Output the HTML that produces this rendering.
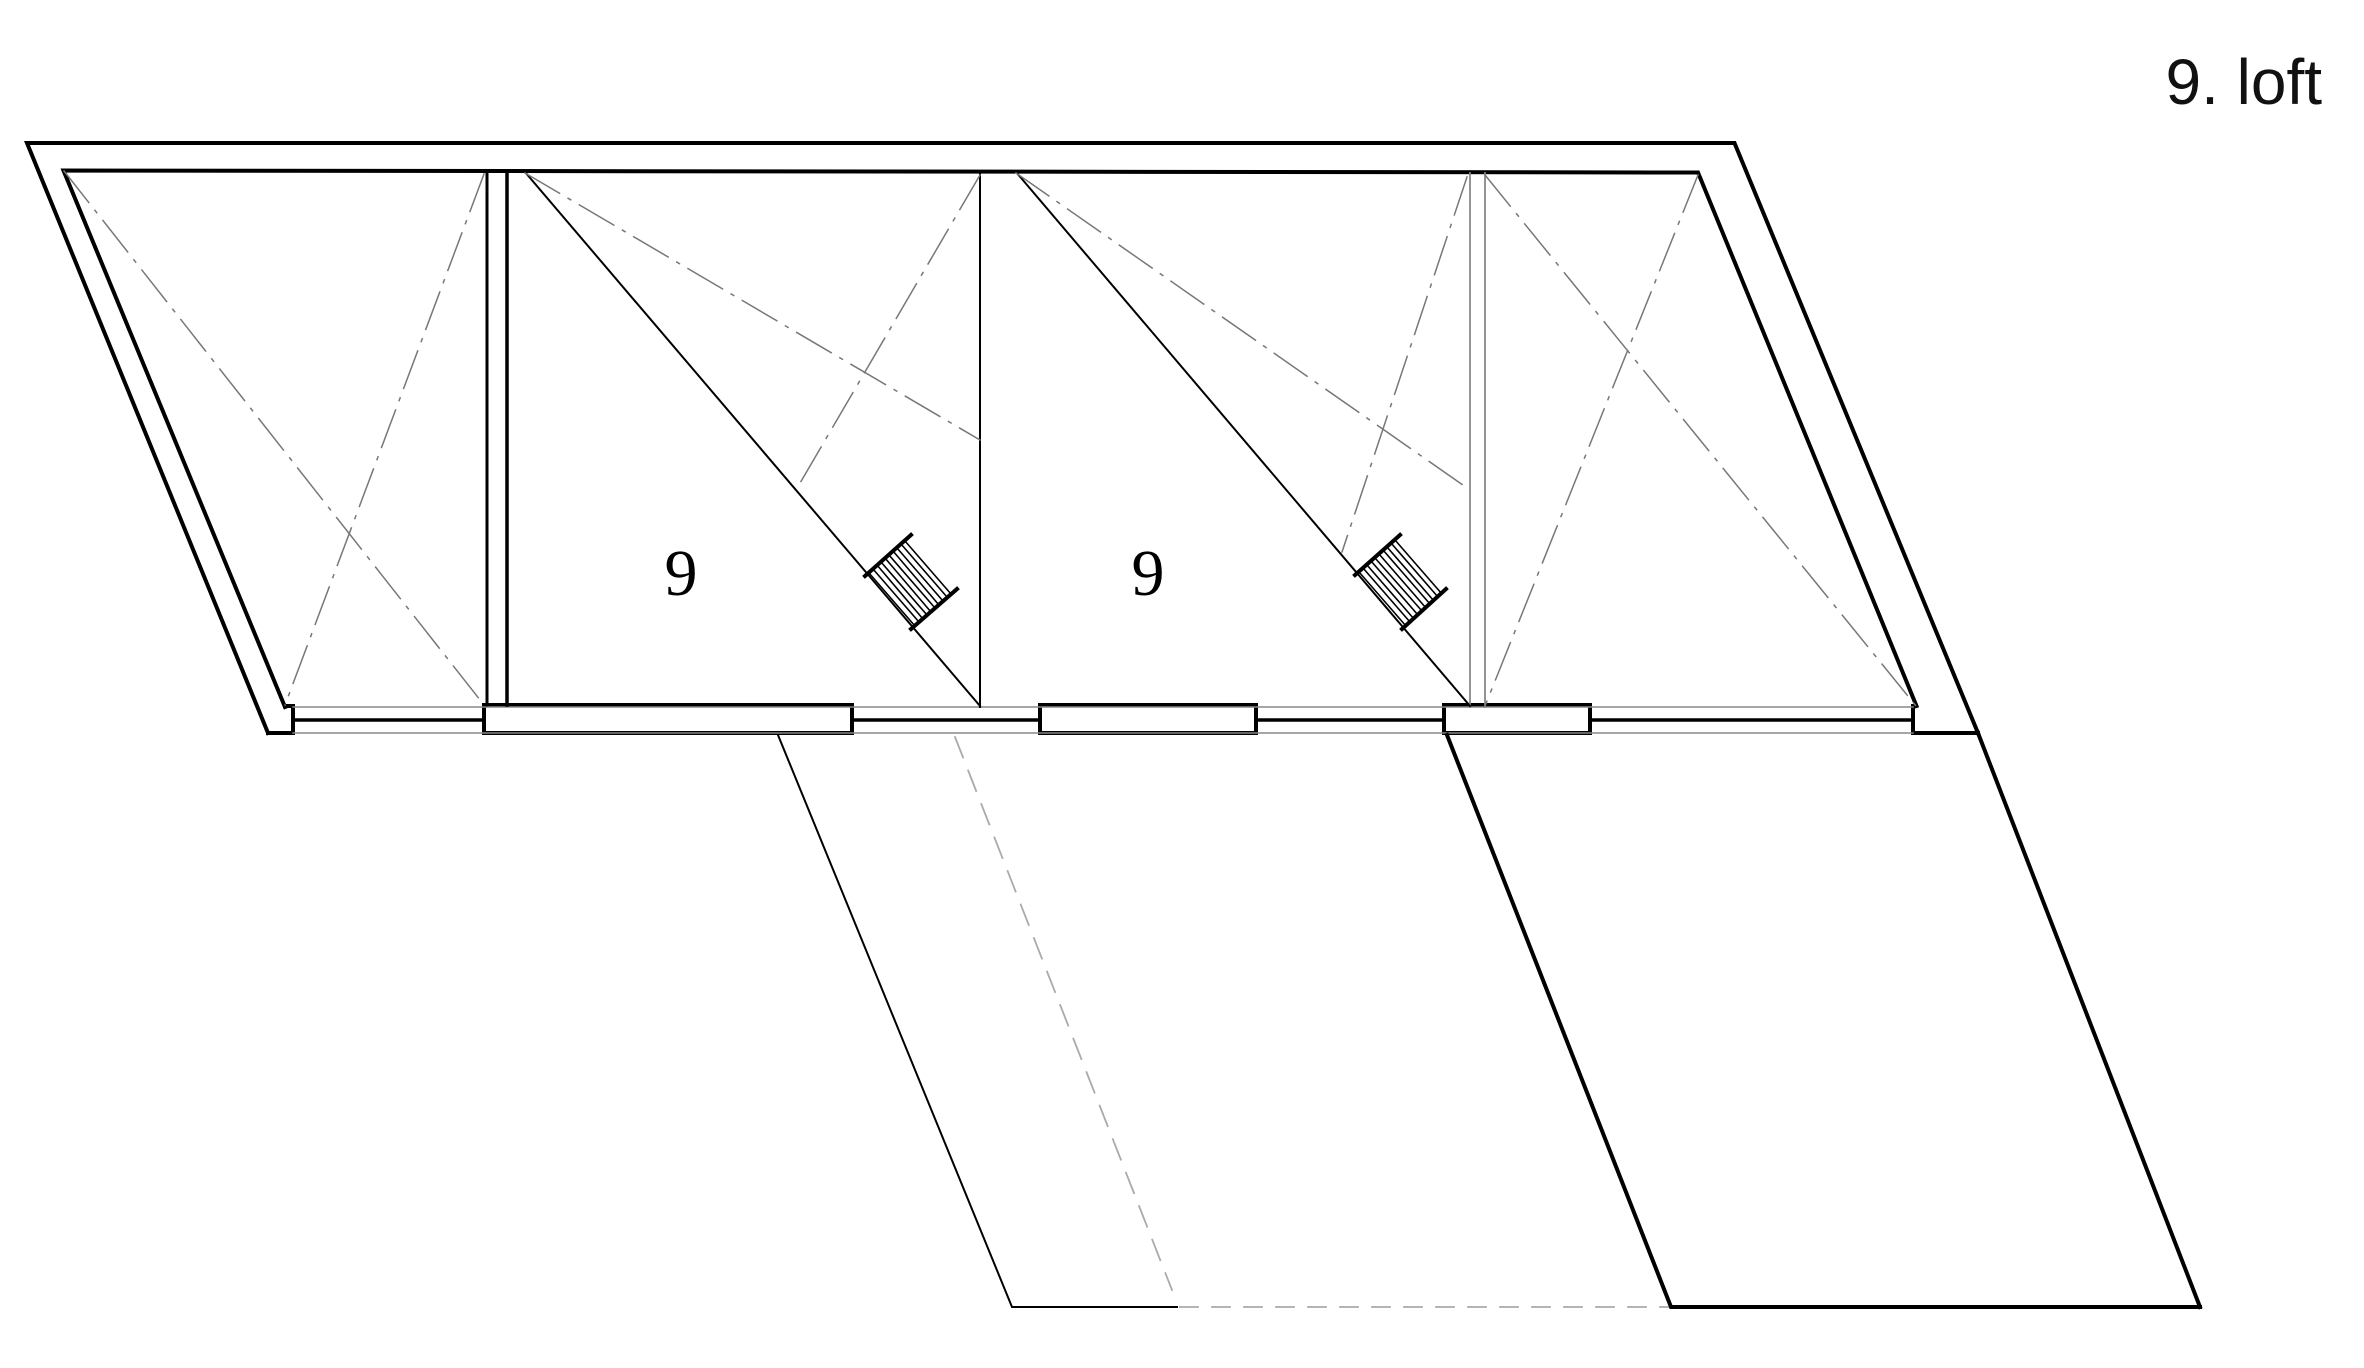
<!DOCTYPE html>
<html><head><meta charset="utf-8"><style>html,body{margin:0;padding:0;background:#fff}svg{display:block}</style></head>
<body>
<svg width="2364" height="1368" viewBox="0 0 2364 1368" xmlns="http://www.w3.org/2000/svg">
<rect width="2364" height="1368" fill="#fff"/>
<text x="2322" y="104" text-anchor="end" font-family="'Liberation Sans', sans-serif" font-size="64" fill="#111">9. loft</text>
<g fill="none" stroke-linecap="square">
<polyline points="268,733 27,143 1734.5,143 1978,733" stroke="#000" stroke-width="4"/>
<polyline points="285,707 63.5,170.5 1698,172.5 1916.5,706" stroke="#000" stroke-width="4"/>
<polyline points="268,733 293,733 293,706 285,706" stroke="#000" stroke-width="4"/>
<polyline points="1978,733 1913,733 1913,706" stroke="#000" stroke-width="4"/>
<rect x="484" y="705" width="368" height="28" stroke="#000" stroke-width="4"/>
<rect x="1040" y="705" width="216" height="28" stroke="#000" stroke-width="4"/>
<rect x="1444" y="705" width="146" height="28" stroke="#000" stroke-width="4"/>
<g stroke="#888" stroke-width="1.5">
<line x1="293" y1="707" x2="1913" y2="707"/>
<line x1="293" y1="733" x2="1913" y2="733"/>
</g>
<g stroke="#000" stroke-width="3.5">
<line x1="293" y1="720" x2="484" y2="720"/>
<line x1="852" y1="720" x2="1040" y2="720"/>
<line x1="1256" y1="720" x2="1444" y2="720"/>
<line x1="1590" y1="720" x2="1913" y2="720"/>
</g>
<line x1="487" y1="171" x2="487" y2="705" stroke="#000" stroke-width="3"/>
<line x1="507" y1="171" x2="507" y2="705" stroke="#000" stroke-width="3.5"/>
<line x1="980" y1="172" x2="980" y2="707" stroke="#000" stroke-width="2"/>
<line x1="1470" y1="173" x2="1470" y2="707" stroke="#888" stroke-width="1.8"/>
<line x1="1485" y1="173" x2="1485" y2="707" stroke="#888" stroke-width="1.8"/>
<line x1="525" y1="172" x2="980" y2="706" stroke="#000" stroke-width="2"/>
<line x1="1016" y1="172" x2="1470" y2="706" stroke="#000" stroke-width="2"/>
<g stroke="#777" stroke-width="1.5" stroke-dasharray="40,10,3,10">
<line x1="64" y1="171" x2="484" y2="705"/>
<line x1="484" y1="174" x2="285" y2="705"/>
<line x1="525" y1="173" x2="980" y2="440"/>
<line x1="980" y1="175" x2="796" y2="490"/>
<line x1="1016" y1="173" x2="1470" y2="490"/>
<line x1="1467" y1="177" x2="1342" y2="552"/>
<line x1="1485" y1="175" x2="1916" y2="706"/>
<line x1="1698" y1="175" x2="1485" y2="706"/>
</g>
<g stroke="#000">
<line x1="865" y1="576" x2="911" y2="535" stroke-width="4"/>
<line x1="911" y1="629" x2="957" y2="589" stroke-width="4"/>
<line x1="1355" y1="575" x2="1400" y2="535" stroke-width="4"/>
<line x1="1402" y1="629" x2="1446" y2="589" stroke-width="4"/>
</g>
<g stroke="#000" stroke-width="1.6">
<line x1="869" y1="573" x2="915" y2="626"/><line x1="873" y1="569" x2="919" y2="622"/><line x1="877" y1="565" x2="923" y2="619"/><line x1="881" y1="562" x2="927" y2="615"/><line x1="885" y1="558" x2="931" y2="612"/><line x1="889" y1="555" x2="935" y2="608"/><line x1="893" y1="551" x2="939" y2="605"/><line x1="897" y1="548" x2="943" y2="601"/><line x1="901" y1="544" x2="947" y2="597"/><line x1="905" y1="541" x2="951" y2="594"/>
<line x1="1359" y1="572" x2="1406" y2="626"/><line x1="1363" y1="568" x2="1410" y2="622"/><line x1="1367" y1="565" x2="1414" y2="619"/><line x1="1371" y1="561" x2="1418" y2="615"/><line x1="1375" y1="558" x2="1422" y2="611"/><line x1="1379" y1="554" x2="1426" y2="608"/><line x1="1383" y1="550" x2="1430" y2="604"/><line x1="1387" y1="547" x2="1434" y2="601"/><line x1="1391" y1="543" x2="1438" y2="597"/><line x1="1395" y1="540" x2="1442" y2="594"/>
</g>
<polyline points="778,735 1012,1307 1177,1307" stroke="#000" stroke-width="2"/>
<line x1="955" y1="737" x2="1172" y2="1290" stroke="#aaa" stroke-width="1.8" stroke-dasharray="22,14"/>
<line x1="1180" y1="1307" x2="1671" y2="1307" stroke="#aaa" stroke-width="1.8" stroke-dasharray="18,14"/>
<polyline points="1447,735 1671,1307 2200,1307" stroke="#000" stroke-width="4"/>
<line x1="1978" y1="733" x2="2200" y2="1307" stroke="#000" stroke-width="4"/>
</g>
<text x="681" y="595" text-anchor="middle" font-family="'Liberation Serif', serif" font-size="66" fill="#000">9</text>
<text x="1148" y="595" text-anchor="middle" font-family="'Liberation Serif', serif" font-size="66" fill="#000">9</text>
</svg>
</body></html>
